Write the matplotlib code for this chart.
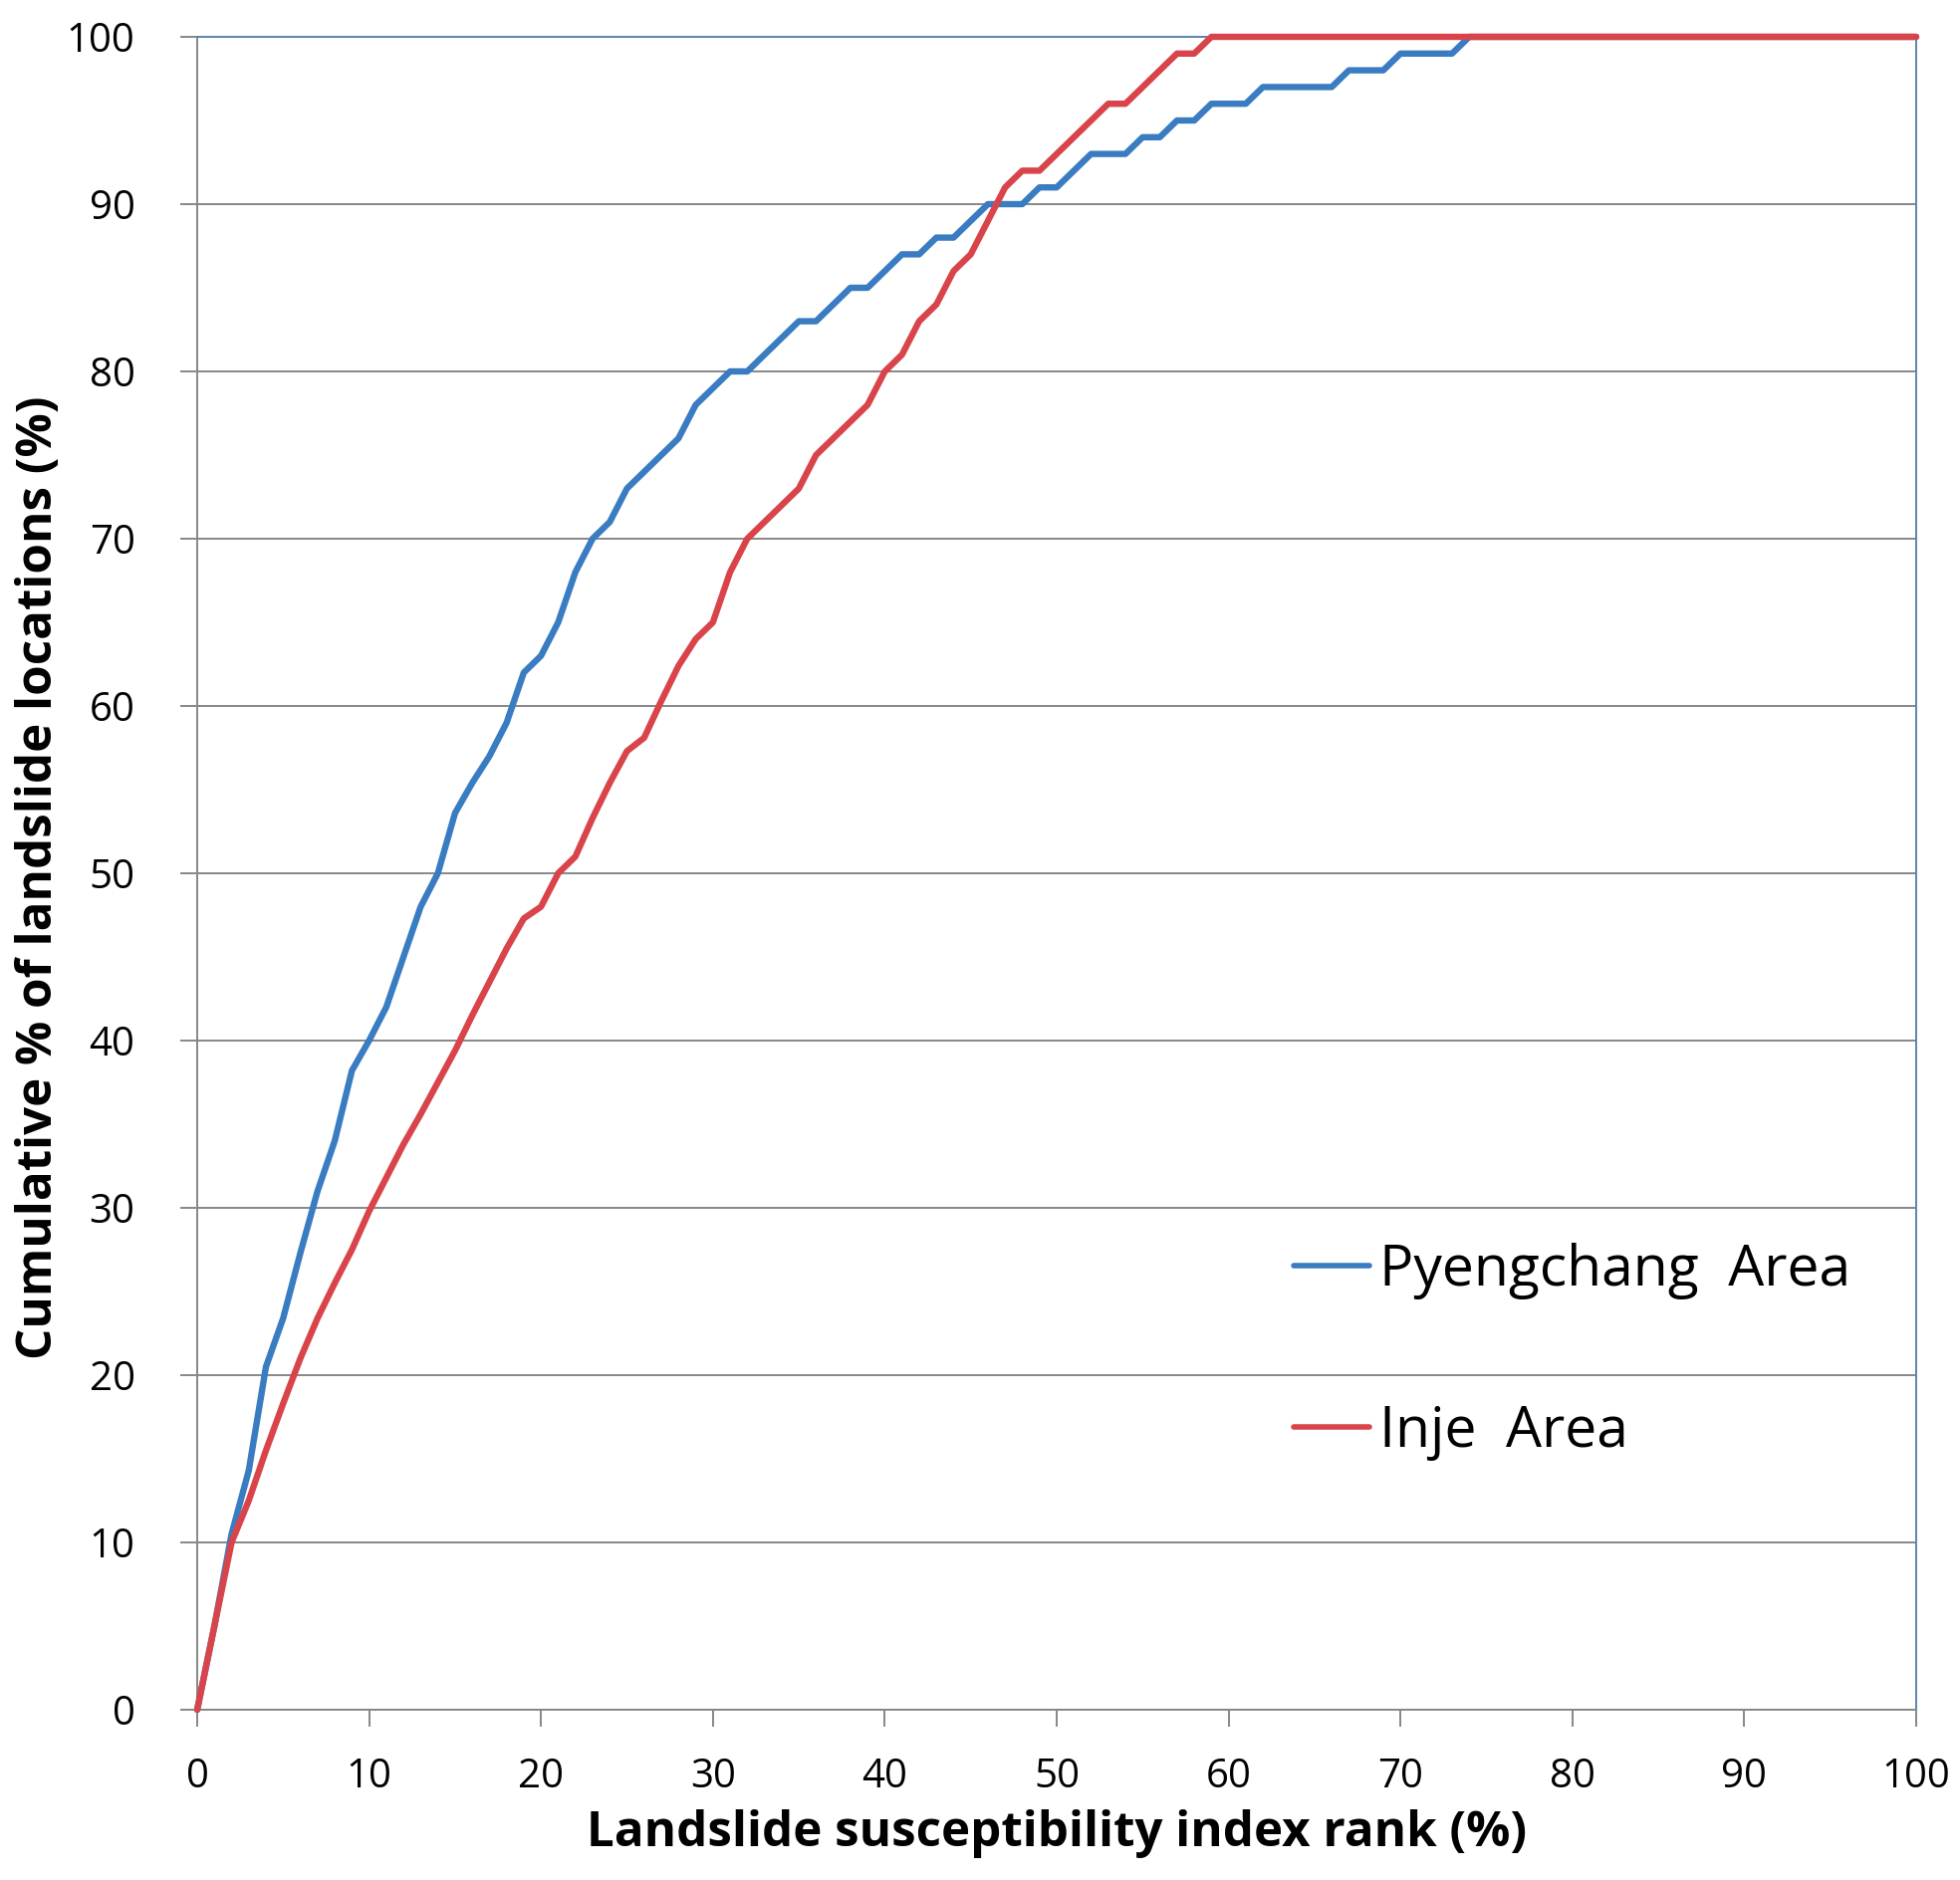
import matplotlib
matplotlib.use("Agg")
import matplotlib.pyplot as plt

# landslide susceptibility index rank (%), 1% steps
rank = list(range(0, 101))

pyengchang = [0, 5, 10.5, 14.3, 20.5, 23.4, 27.3, 31, 34, 38.2,
              40, 42, 45, 48, 50, 53.6, 55.4, 57, 59, 62,
              63, 65, 68, 70, 71, 73, 74, 75, 76, 78,
              79, 80, 80, 81, 82, 83, 83, 84, 85, 85,
              86, 87, 87, 88, 88, 89, 90, 90, 90, 91,
              91, 92, 93, 93, 93, 94, 94, 95, 95, 96,
              96, 96, 97, 97, 97, 97, 97, 98, 98, 98,
              99, 99, 99, 99, 100, 100, 100, 100, 100, 100,
              100, 100, 100, 100, 100, 100, 100, 100, 100, 100,
              100, 100, 100, 100, 100, 100, 100, 100, 100, 100,
              100]

inje = [0, 5, 10, 12.5, 15.5, 18.3, 21, 23.4, 25.5, 27.5,
        29.8, 31.8, 33.8, 35.6, 37.5, 39.4, 41.5, 43.5, 45.5, 47.3,
        48, 50, 51, 53.3, 55.4, 57.3, 58.1, 60.3, 62.4, 64,
        65, 68, 70, 71, 72, 73, 75, 76, 77, 78,
        80, 81, 83, 84, 86, 87, 89, 91, 92, 92,
        93, 94, 95, 96, 96, 97, 98, 99, 99, 100,
        100, 100, 100, 100, 100, 100, 100, 100, 100, 100,
        100, 100, 100, 100, 100, 100, 100, 100, 100, 100,
        100, 100, 100, 100, 100, 100, 100, 100, 100, 100,
        100, 100, 100, 100, 100, 100, 100, 100, 100, 100,
        100]

ticks = [0, 10, 20, 30, 40, 50, 60, 70, 80, 90, 100]

plt.rcParams['font.family'] = ['Open Sans', 'DejaVu Sans']

fig = plt.figure(figsize=(19.68, 18.88), dpi=100)
ax = fig.add_axes([198/1968, 171/1888, 1726/1968, 1680/1888])

ax.plot(rank, pyengchang, color='#3a7cc1', lw=4.6, label='Pyengchang  Area',
        solid_joinstyle='round', solid_capstyle='round', clip_on=False, zorder=3)
ax.plot(rank, inje, color='#d8444a', lw=4.6, label='Inje  Area',
        solid_joinstyle='round', solid_capstyle='round', clip_on=False, zorder=4)

ax.set_xlim(0, 100)
ax.set_ylim(0, 100)
ax.set_xticks(ticks)
ax.set_yticks(ticks)
ax.grid(axis='y', color='#878787', lw=1.4)
ax.set_axisbelow(True)

for s in ['left', 'bottom']:
    ax.spines[s].set_color('#878787')
    ax.spines[s].set_linewidth(1.4)
for s in ['top', 'right']:
    ax.spines[s].set_color('#5b84b1')
    ax.spines[s].set_linewidth(1.4)

ax.tick_params(axis='both', direction='out', length=12, width=1.4,
               color='#878787', labelsize=29)
ax.tick_params(axis='y', pad=33)
ax.tick_params(axis='x', pad=22)

ax.set_xlabel('Landslide susceptibility index rank (%)', fontsize=35.5,
              fontweight='bold', va='center')
ax.xaxis.set_label_coords(0.5, (1717 - 1841) / 1680)
ax.set_ylabel('Cumulative % of landslide locations (%)', fontsize=35.5,
              fontweight='bold', va='center')
ax.yaxis.set_label_coords((40 - 198) / 1726, 0.5 + (877 - 881) / 1680)

leg = ax.legend(loc='upper left', bbox_to_anchor=(1299/1968, 1 - 1248/1888),
                bbox_transform=fig.transFigure, frameon=False, fontsize=41,
                handlelength=1.33, handletextpad=0.18, labelspacing=1.84,
                borderpad=0, borderaxespad=0)
for h in leg.get_lines():
    h.set_linewidth(4)

fig.savefig('out.png', dpi=100)
